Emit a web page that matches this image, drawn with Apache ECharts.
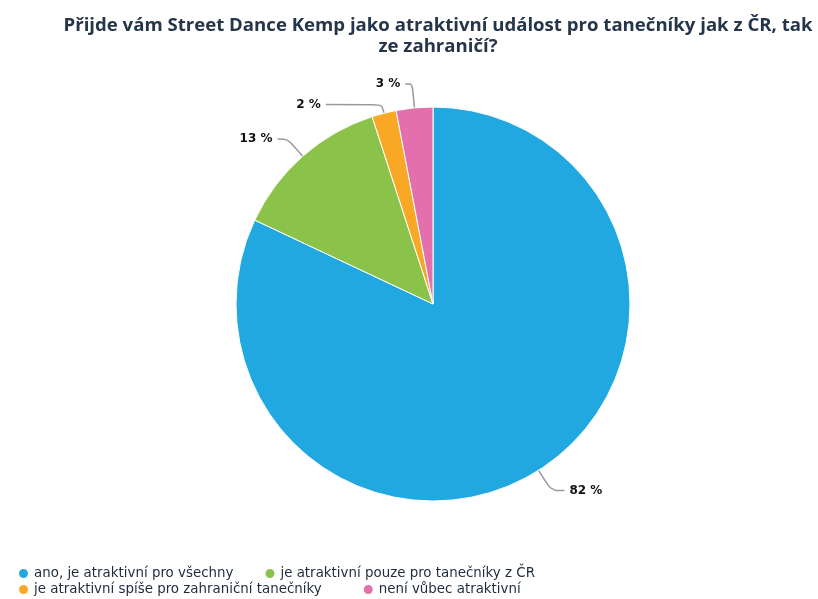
<!DOCTYPE html>
<html><head><meta charset="utf-8">
<script src="https://cdn.jsdelivr.net/npm/echarts@6/dist/echarts.min.js"></script>
<style>html,body{margin:0;padding:0;background:#fff}#c{width:818px;height:599px}</style>
</head><body><div id="c"></div>
<script>
const categories = ["ano, je atraktivní pro všechny", "je atraktivní pouze pro tanečníky z ČR", "je atraktivní spíše pro zahraniční tanečníky", "není vůbec atraktivní"];
const values = [82, 13, 2, 3];
const colors = ["#22a8e0", "#8bc34a", "#f9a825", "#e46fad"];
const titleText = "Přijde vám Street Dance Kemp jako atraktivní událost pro tanečníky jak z ČR, tak\nze zahraničí?";

const legendText = {fontFamily: 'DejaVu Sans', fontSize: 13.4, color: '#1e2b3c'};
const lineSpecs = [
  {length: 24, length2: 13},
  {length: 23, length2: 10},
  {length: 9, length2: 56},
  {length: 24, length2: 7}
];
const chart = echarts.init(document.getElementById('c'));
chart.setOption({
  animation: false,
  color: colors,
  title: {
    text: titleText,
    left: 433, top: 10, textAlign: 'center',
    textStyle: {fontFamily: 'Open Sans', fontSize: 18.6, fontWeight: 'bold', color: '#25364a', lineHeight: 21}
  },
  legend: [{
    left: 17, top: 567,
    icon: 'circle', itemWidth: 11, itemHeight: 11, itemGap: 30,
    textStyle: legendText, padding: 0,
    data: categories.slice(0, 2)
  }, {
    left: 17, top: 583,
    icon: 'circle', itemWidth: 11, itemHeight: 11, itemGap: 40,
    textStyle: legendText, padding: 0,
    data: categories.slice(2, 4)
  }],
  series: [{
    type: 'pie',
    center: [433, 304],
    radius: 197,
    startAngle: 90,
    clockwise: true,
    avoidLabelOverlap: false,
    data: categories.map((c, i) => ({name: c, value: values[i], labelLine: lineSpecs[i]})),
    itemStyle: {borderColor: '#fff', borderWidth: 1},
    label: {
      formatter: '{c} %', color: '#111', fontFamily: 'DejaVu Sans', fontWeight: 'bold', fontSize: 12
    },
    labelLine: {smooth: 0.3, lineStyle: {color: '#999', width: 1.5}}
  }]
});
</script></body></html>
